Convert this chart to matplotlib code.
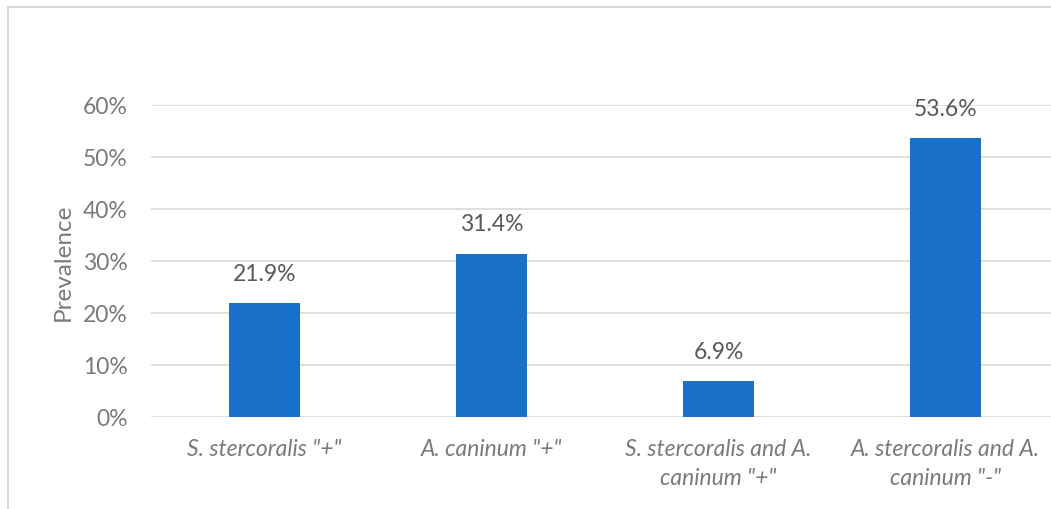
import matplotlib
matplotlib.use("Agg")
import matplotlib.pyplot as plt
from matplotlib.patches import Rectangle
from matplotlib.ticker import PercentFormatter

categories = ['S. stercoralis "+"', 'A. caninum "+"',
              'S. stercoralis and A.\ncaninum "+"', 'A. stercoralis and A.\ncaninum "-"']
values = [21.9, 31.4, 6.9, 53.6]
value_labels = ["21.9%", "31.4%", "6.9%", "53.6%"]
yticks = [0, 10, 20, 30, 40, 50, 60]

plt.rcParams['font.family'] = ['Lato', 'DejaVu Sans']
dark = '#595959'
light = '#7a7a7a'

fig = plt.figure(figsize=(10.51, 5.1), dpi=100)
W, H = 1051, 510
ax = fig.add_axes([151 / W, 1 - 418 / H, 908 / W, (418 - 106) / H])

x = list(range(len(categories)))
ax.bar(x, values, width=0.313, color='#1870C8', zorder=3)
for xi, v, lab in zip(x, values, value_labels):
    ax.annotate(lab, (xi, v), xytext=(0, 14), textcoords='offset points',
                ha='center', va='bottom', color=dark, fontsize=16.5)

ax.set_xlim(-0.5, len(categories) - 0.5)
ax.set_ylim(0, 60)
ax.set_yticks(yticks)
ax.yaxis.set_major_formatter(PercentFormatter(decimals=0))
ax.grid(axis='y', color='#d9d9d9', linewidth=1.2, zorder=0)
for s in ax.spines.values():
    s.set_visible(False)
ax.tick_params(axis='both', length=0, labelsize=16.5)
ax.tick_params(axis='y', pad=17, labelcolor=light)
ax.tick_params(axis='x', pad=15, labelcolor=light)
ax.set_xticks(x)
ax.set_xticklabels(categories, style='italic', linespacing=1.5)
ax.set_ylabel('Prevalence', color=light, fontsize=17.5, labelpad=6)

fig.patches.append(Rectangle((8 / W, -0.2), 1.5, (H - 8) / H + 0.2,
                             transform=fig.transFigure, fill=False,
                             edgecolor='#d9d9d9', linewidth=1.5))

fig.savefig('out.png', dpi=100)
